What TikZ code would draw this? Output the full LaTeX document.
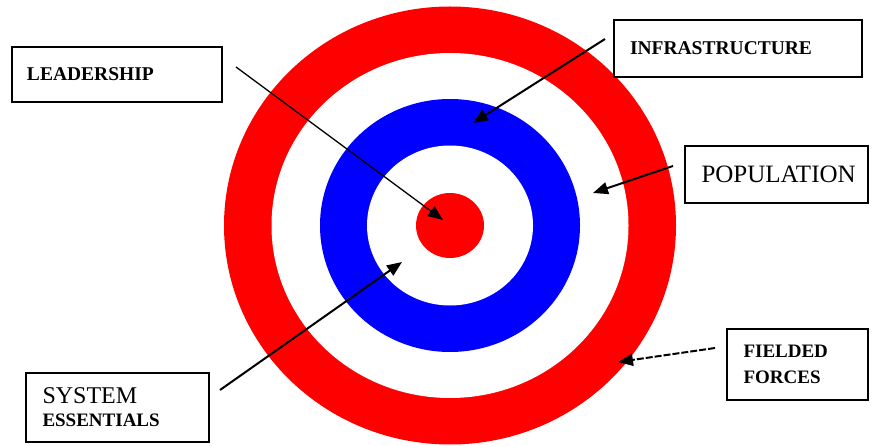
\documentclass[tikz,border=0pt]{standalone}
\usepackage{fontspec}
\setmainfont{Liberation Serif}
\usetikzlibrary{arrows.meta}

\begin{document}
\begin{tikzpicture}[
        x=1pt, y=-1pt,
        labelBox/.style={
            rectangle,
            draw,
            line width=1.8pt,
            align=left,
            inner sep=0pt
        },
        pointer/.style={
            line width=2pt,
            -{Triangle[length=15pt,width=12pt]}
        }
    ]
        \useasboundingbox (0,0) rectangle (872,446);

        \fill[red]   (450,225.5) ellipse [x radius=226, y radius=219];
        \fill[white] (450,225.5) ellipse [x radius=178.5, y radius=172.5];
        \fill[blue]  (450,225.5) ellipse [x radius=130, y radius=126.5];
        \fill[white] (450,225.5) ellipse [x radius=83, y radius=80];
        \fill[red]   (450,225.5) ellipse [x radius=34, y radius=32.5];

        \node[labelBox, minimum width=210pt, minimum height=55pt, text width=180pt,
              font=\fontsize{19.5}{22}\selectfont\bfseries] (lead) at (117,74.5) {LEADERSHIP};
        \node[labelBox, minimum width=248pt, minimum height=57pt, text width=216pt,
              font=\fontsize{19.5}{22}\selectfont\bfseries] (infra) at (738,48.5) {INFRASTRUCTURE};
        \node[labelBox, minimum width=183pt, minimum height=57pt, text width=150pt,
              font=\fontsize{25}{28}\selectfont] (pop) at (776.5,174.5) {POPULATION};
        \node[labelBox, minimum width=183pt, minimum height=69pt, text width=150pt,
              font=\fontsize{19}{23}\selectfont\bfseries] (sysess) at (117.5,407.5)
              {{\fontsize{24}{23}\selectfont\mdseries SYSTEM}\\ESSENTIALS};
        \node[labelBox, minimum width=141pt, minimum height=71pt, text width=108pt,
              font=\fontsize{19}{26}\selectfont\bfseries] (fielded) at (797.5,364.5) {FIELDED\\FORCES};

        \coordinate (lead-tail) at (236,67);
        \coordinate (lead-tip) at (443,220);
        \coordinate (infra-tail) at (605,39);
        \coordinate (infra-tip) at (473,123);
        \coordinate (pop-tail) at (673,166);
        \coordinate (pop-tip) at (593,193);
        \coordinate (sysess-tail) at (220,390);
        \coordinate (sysess-tip) at (402,262);
        \coordinate (fielded-tail) at (715,348);
        \coordinate (fielded-tip) at (618,362);

        \draw[pointer, line width=1.3pt] (lead-tail) -- (lead-tip);
        \draw[pointer] (infra-tail) -- (infra-tip);
        \draw[pointer] (pop-tail) -- (pop-tip);
        \draw[pointer] (sysess-tail) -- (sysess-tip);
        \draw[pointer, dash pattern=on 7pt off 2pt] (fielded-tail) -- (fielded-tip);

    \end{tikzpicture}
\end{document}
